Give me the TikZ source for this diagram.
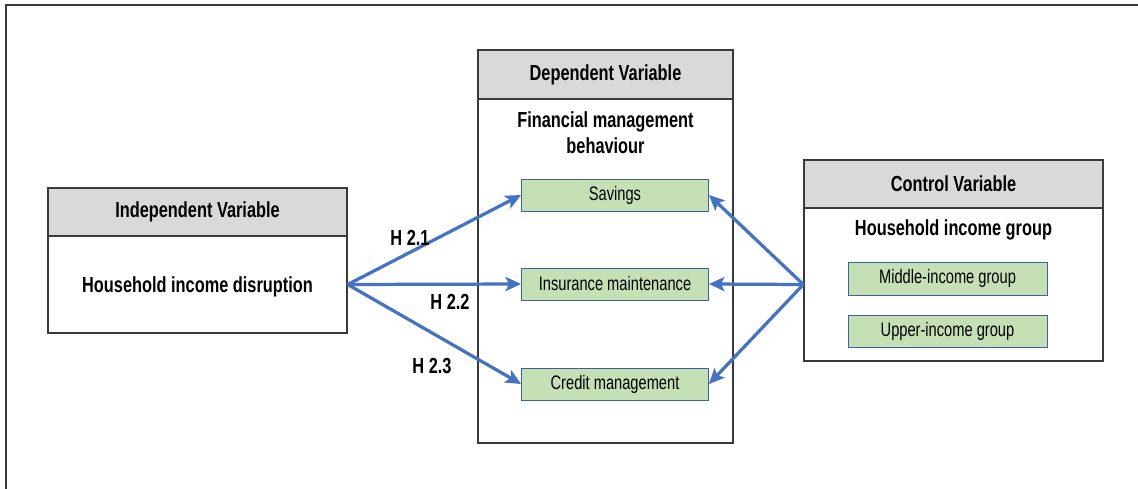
\documentclass[tikz,border=0pt]{standalone}
\usepackage{fontspec}
\setmainfont{Liberation Sans}[FakeStretch=0.75]
\usetikzlibrary{arrows.meta, positioning}
\definecolor{headgray}{HTML}{D9D9D9}
\definecolor{itemgreen}{HTML}{C5E0B4}
\definecolor{linkblue}{HTML}{4472C4}
\definecolor{framegray}{HTML}{3A3A3A}

\begin{document}
\begin{tikzpicture}[
    x=0.025cm, y=-0.025cm,
    head/.style={draw=framegray, line width=0.9pt, fill=headgray, minimum width=#1, minimum height=1.2cm, inner sep=0pt, font=\fontsize{15.5}{18}\selectfont\bfseries},
    body/.style={draw=framegray, line width=0.9pt, fill=white, minimum width=#1, inner sep=0pt},
    item/.style={draw=linkblue!85!black, line width=0.6pt, fill=itemgreen, minimum width=#1, minimum height=0.8cm, inner sep=0pt, font=\fontsize{13.9}{16}\selectfont},
    item/.default=4.675cm,
    title/.style={font=\fontsize{15.5}{18.5}\selectfont\bfseries, align=center},
    hyp/.style={font=\fontsize{15.5}{18}\selectfont\bfseries},
    link/.style={-{Stealth[length=11pt, width=10pt, inset=2.5pt]}, line width=2.3pt, linkblue},
]
\useasboundingbox (0,0) rectangle (1138,488);

% outer frame (only top and left show)
\draw[framegray, line width=1.4pt] (6,492) -- (6,5) -- (1142,5);

% --- Independent variable ---
\node[body=7.475cm, minimum height=2.425cm] (ivbody) at (197.5,284.5) {};
\node[head=7.475cm] (ivhead) at (197.5,212) {Independent Variable};
\node[title] (ivtext) at (197.5,287) {Household income disruption};

% --- Dependent variable ---
\node[body=6.375cm, minimum height=8.6cm] (dvbody) at (605.5,271) {};
\node[head=6.375cm, minimum height=1.225cm] (dvhead) at (605.5,74.5) {Dependent Variable};
\node[title] (dvtext) at (605.5,133) {Financial management\\behaviour};
\node[item] (sav) at (615,195) {Savings};
\node[item] (ins) at (615,284) {Insurance maintenance};
\node[item] (cred) at (615,384) {Credit management};

% --- Control variable ---
\node[body=7.475cm, minimum height=3.825cm] (cvbody) at (953.5,284.5) {};
\node[head=7.475cm] (cvhead) at (953.5,184) {Control Variable};
\node[title] (cvtext) at (953.5,230) {Household income group};
\node[item=4.975cm, minimum height=0.825cm] (mid) at (947.5,278.5) {Middle-income group};
\node[item=4.975cm] (upp) at (947.5,331) {Upper-income group};

% hypotheses
\draw[link] (ivbody.east) -- (sav.west);
\draw[link] (ivbody.east) -- (ins.west);
\draw[link] (ivbody.east) -- (cred.west);
\node[hyp] (h1) at (410,238) {H 2.1};
\node[hyp] (h2) at (450,302) {H 2.2};
\node[hyp] (h3) at (432,366) {H 2.3};

% control links
\draw[link] (cvbody.west) -- (sav.east);
\draw[link] (cvbody.west) -- (ins.east);
\draw[link] (cvbody.west) -- (cred.east);

\end{tikzpicture}
\end{document}
